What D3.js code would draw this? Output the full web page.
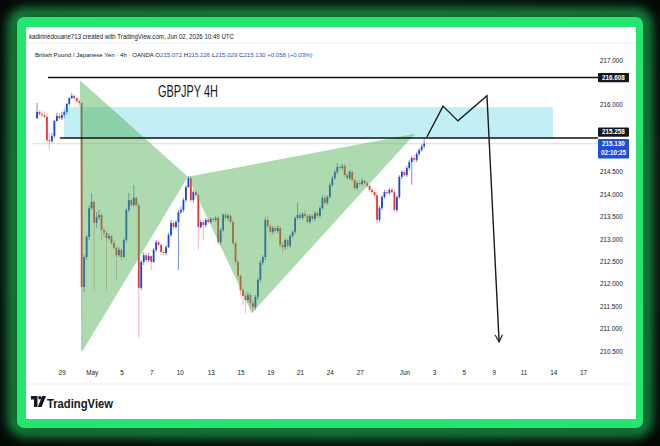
<!DOCTYPE html>
<html>
<head>
<meta charset="utf-8">
<script src="https://cdn.jsdelivr.net/npm/d3@7"></script>
<style>
  html, body { margin: 0; padding: 0; background: #070e08; }
  svg { display: block; font-family: "Liberation Sans", Arial, sans-serif; }
</style>
</head>
<body>
<svg id="chart" width="660" height="446"></svg>
<script>
// ---- data (GBPJPY, 4h bars, bar 0 = Apr 27 ~20:00) ----
const firstOpen = 215.70;
const closes = [
  215.84,215.79,215.77,215.73,215.21,215.19,215.30,215.64,215.75,215.70,
  215.77,215.84,216.02,216.15,216.20,216.15,216.08,216.04,211.93,212.60,
  213.05,213.69,213.83,213.36,213.49,213.54,213.20,213.14,213.02,213.07,
  212.91,212.80,212.64,212.76,212.60,212.98,213.65,213.87,213.76,213.92,
  213.76,211.91,212.49,212.64,212.53,212.62,212.49,212.76,212.93,212.87,
  212.71,212.69,212.82,213.09,213.36,213.27,213.38,213.60,213.65,213.87,
  214.16,214.36,213.87,214.05,213.98,213.27,213.38,213.31,213.43,213.38,
  213.45,213.43,213.47,212.93,213.20,213.54,213.47,213.52,213.38,212.91,
  212.49,212.18,211.86,211.73,211.64,211.75,211.57,211.48,211.71,212.09,
  212.47,212.60,213.43,213.29,213.16,213.25,213.18,213.25,212.87,212.82,
  212.98,212.85,213.07,213.16,213.47,213.54,213.47,213.56,213.52,213.38,
  213.52,213.45,213.58,213.52,213.69,213.92,213.81,213.94,214.21,214.36,
  214.50,214.61,214.59,214.63,214.43,214.36,214.50,214.32,214.14,214.25,
  214.23,214.30,214.25,214.19,214.10,214.05,213.98,213.43,213.69,213.94,
  214.05,214.03,214.10,214.05,213.65,213.94,214.39,214.50,214.43,214.59,
  214.72,214.81,214.77,214.90,214.99,215.07,215.13
];
const highs = [
  216.04,215.88,215.86,215.84,215.82,215.37,215.37,215.66,215.82,215.82,
  215.84,215.88,216.04,216.17,216.26,216.22,216.17,216.13,216.06,212.64,
  213.09,213.76,214.03,213.87,213.60,213.65,213.58,213.27,213.20,213.14,
  213.09,212.98,212.85,212.82,212.80,213.02,213.69,214.03,213.92,214.21,
  213.96,213.81,212.53,212.71,212.69,212.69,212.64,212.80,212.98,212.98,
  212.91,212.76,212.87,213.14,213.43,213.40,213.43,213.65,213.72,213.92,
  214.21,214.41,214.41,214.10,214.10,214.03,213.43,213.43,213.47,213.47,
  213.49,213.49,213.52,213.52,213.25,213.58,213.60,213.56,213.56,213.43,
  212.95,212.53,212.22,211.91,211.80,211.82,211.80,211.64,211.75,212.13,
  212.53,212.64,213.49,213.52,213.34,213.29,213.29,213.31,213.29,212.93,
  213.02,213.02,213.11,213.20,213.52,213.81,213.60,213.60,213.63,213.56,
  213.56,213.56,213.63,213.63,213.74,213.98,213.98,213.98,214.25,214.41,
  214.54,214.70,214.65,214.68,214.68,214.48,214.54,214.54,214.36,214.30,
  214.32,214.36,214.34,214.30,214.23,214.14,214.10,214.03,213.74,213.98,
  214.10,214.10,214.14,214.14,214.10,213.98,214.43,214.54,214.54,214.63,
  214.77,214.86,214.88,214.95,215.03,215.12,215.23
];
const lows = [
  215.68,215.75,215.73,215.70,215.17,214.99,215.15,215.26,215.62,215.66,
  215.66,215.70,215.79,215.97,216.13,216.11,216.06,215.97,210.52,211.82,
  212.53,212.98,213.65,211.86,213.25,213.43,212.98,213.05,211.86,212.98,
  212.87,212.76,212.09,212.60,212.53,212.58,212.93,213.60,213.72,213.72,
  213.72,210.81,211.86,212.42,212.47,212.49,212.31,212.47,212.71,212.82,
  212.64,212.62,212.64,212.80,213.05,213.20,213.23,212.31,213.56,213.60,
  213.83,214.14,213.83,213.81,213.92,212.76,213.23,212.98,213.27,213.34,
  213.34,213.38,213.38,212.87,212.87,213.16,213.43,213.40,213.34,212.87,
  212.42,212.09,211.75,211.53,211.35,211.57,211.42,211.35,211.42,211.64,
  212.04,212.42,212.53,213.25,213.09,213.11,213.14,213.14,212.80,212.69,
  212.76,212.78,212.80,213.02,213.11,213.43,213.43,213.43,213.47,213.34,
  213.34,213.40,213.40,213.47,213.47,213.65,213.76,213.76,213.90,214.16,
  214.32,214.45,214.54,214.54,214.39,214.32,214.32,214.28,214.10,214.10,
  214.19,214.19,214.21,214.14,214.05,214.01,213.94,213.36,213.38,213.65,
  213.90,213.98,213.98,214.01,213.60,213.60,213.90,214.34,214.39,214.39,
  214.54,214.21,214.72,214.72,214.86,214.95,215.03
];

const priceTicks = [217, 216.5, 216, 215.5, 215, 214.5, 214, 213.5, 213, 212.5, 212, 211.5, 211, 210.5];
const timeTickBars = [10, 22, 34, 46, 57.5, 70, 82, 94, 106, 118, 130, 148, 160, 172, 184, 196, 208, 220];
const timeLabels = ['29', 'May', '5', '7', '10', '13', '15', '19', '21', '24', '27', 'Jun', '3', '5', '9', '11', '14', '17'];

// drawings (anchors in bar index / price)
const levelPrices = [216.608, 215.258];
const levelStartBars = [4.4, 9.3];
const zoneBars = [10.9, 207.9];
const zonePrices = [215.95, 215.258];
const xabcdBars = [17.3, 18.1, 60.8, 86.6, 152.3];
const xabcdPrices = [216.55, 210.48, 214.39, 211.35, 215.35];
const projBars = [157.1, 163.6, 169.6, 181.3, 186.2];
const projPrices = [215.28, 215.97, 215.64, 216.20, 210.70];
const lastPrice = 215.130;
const countdown = '02:10:25';

const svg = d3.select('#chart');
const W = 660, H = 446;
const plotRight = 598;

const x = d3.scaleLinear().domain([0, 220]).range([37, 583]);
const y = d3.scaleLinear().domain([210.5, 217]).range([351, 60]);

// ---- background + glowing frame ----
const defs = svg.append('defs');
const glow = defs.append('filter').attr('id', 'glow')
  .attr('x', '-10%').attr('y', '-10%').attr('width', '120%').attr('height', '120%');
glow.append('feGaussianBlur').attr('stdDeviation', 6);

const bgGrad = defs.append('radialGradient').attr('id', 'bg').attr('cx', '50%').attr('cy', '50%').attr('r', '70%');
bgGrad.append('stop').attr('offset', '0%').attr('stop-color', '#0f2b17');
bgGrad.append('stop').attr('offset', '100%').attr('stop-color', '#040905');

svg.append('rect').attr('width', W).attr('height', H).attr('fill', 'url(#bg)');
svg.append('rect')
  .attr('x', 14).attr('y', 14).attr('width', 632).attr('height', 417).attr('rx', 10)
  .attr('fill', 'none').attr('stroke', '#2bff7a').attr('stroke-width', 9)
  .attr('opacity', 0.7).attr('filter', 'url(#glow)');
svg.append('rect')
  .attr('x', 17).attr('y', 17).attr('width', 626).attr('height', 411).attr('rx', 7)
  .attr('fill', '#24e56e');
svg.append('rect')
  .attr('x', 26).attr('y', 27).attr('width', 610).attr('height', 392)
  .attr('fill', '#ffffff');

// ---- header ----
svg.append('text')
  .attr('x', 29).attr('y', 38.5)
  .attr('font-size', 6.4).attr('fill', '#131722')
  .attr('textLength', 205).attr('lengthAdjust', 'spacingAndGlyphs')
  .text('kadirinedouane713 created with TradingView.com, Jun 02, 2026 10:49 UTC');

svg.append('line')
  .attr('x1', 26).attr('x2', 636).attr('y1', 43).attr('y2', 43)
  .attr('stroke', '#eceef2');

const legend = svg.append('text')
  .attr('x', 35).attr('y', 56.5)
  .attr('font-size', 6.1).attr('fill', '#131722');
legend.append('tspan').text('British Pound / Japanese Yen · 4h · OANDA  ');
const ohlc = [['O', '215.072'], ['H', '215.226'], ['L', '215.029'], ['C', '215.130']];
ohlc.forEach(([k, v]) => {
  legend.append('tspan').attr('fill', '#131722').text(k);
  legend.append('tspan').attr('fill', '#2a55d6').text(v + '  ');
});
legend.append('tspan').attr('fill', '#2a55d6').text('+0.058 (+0.03%)');

// ---- price axis (labels hidden where a price tag covers them) ----
const tagCenters = [y(levelPrices[0]), y(levelPrices[1]) - 6, y(lastPrice) + 4.5];
const visibleTicks = priceTicks.filter(p => tagCenters.every(c => Math.abs(y(p) - c) > 8));
const yAxis = svg.append('g')
  .attr('transform', `translate(${plotRight},0)`)
  .call(d3.axisRight(y).tickValues(visibleTicks).tickFormat(d3.format('.3f')).tickSize(0).tickPadding(2));
yAxis.select('.domain').remove();
yAxis.selectAll('text')
  .attr('font-size', 6.3).attr('fill', '#131722')
  .attr('font-family', '"Liberation Sans", Arial, sans-serif');

// ---- time axis ----
const xAxis = svg.append('g')
  .attr('transform', 'translate(0,368)')
  .call(d3.axisBottom(x).tickValues(timeTickBars).tickFormat((d, i) => timeLabels[i]).tickSize(0).tickPadding(3));
xAxis.select('.domain').remove();
xAxis.selectAll('text')
  .attr('font-size', 6.3).attr('fill', '#131722')
  .attr('font-family', '"Liberation Sans", Arial, sans-serif');

svg.append('line')
  .attr('x1', 26).attr('x2', 636).attr('y1', 384).attr('y2', 384)
  .attr('stroke', '#eceef2');

// ---- last price line ----
svg.append('line')
  .attr('x1', 33).attr('x2', plotRight).attr('y1', y(lastPrice)).attr('y2', y(lastPrice))
  .attr('stroke', '#d9dce3').attr('stroke-width', 1);

// ---- candles ----
const bars = closes.map((c, i) => ({
  i,
  o: i === 0 ? firstOpen : closes[i - 1],
  c,
  h: highs[i],
  l: lows[i]
}));

const upCol = '#1f44d0', downCol = '#e8383c';
const upWick = '#5a72d8', downWick = '#eba2a4';
const bodyW = 1.8;

const candles = svg.append('g').attr('class', 'candles');
candles.selectAll('line')
  .data(bars).enter().append('line')
  .attr('x1', d => x(d.i)).attr('x2', d => x(d.i))
  .attr('y1', d => y(Math.max(d.h, d.o, d.c)))
  .attr('y2', d => y(Math.min(d.l, d.o, d.c)))
  .attr('stroke', d => d.c >= d.o ? upWick : downWick)
  .attr('stroke-width', 0.8);
candles.selectAll('rect')
  .data(bars).enter().append('rect')
  .attr('x', d => x(d.i) - bodyW / 2)
  .attr('width', bodyW)
  .attr('y', d => y(Math.max(d.o, d.c)))
  .attr('height', d => Math.max(1, Math.abs(y(d.o) - y(d.c))))
  .attr('fill', d => d.c >= d.o ? upCol : downCol);

// ---- drawings ----
// supply zone
svg.append('rect')
  .attr('x', x(zoneBars[0])).attr('width', x(zoneBars[1]) - x(zoneBars[0]))
  .attr('y', y(zonePrices[0])).attr('height', y(zonePrices[1]) - y(zonePrices[0]))
  .attr('fill', '#00bcd4').attr('fill-opacity', 0.24);

// XABCD pattern triangles
const pts = xabcdBars.map((b, i) => [x(b), y(xabcdPrices[i])]);
[[0, 1, 2], [2, 3, 4]].forEach(tri => {
  svg.append('path')
    .attr('d', d3.line()(tri.map(k => pts[k])) + 'Z')
    .attr('fill', '#4caf50').attr('fill-opacity', 0.46)
    .attr('stroke', 'none');
});

// horizontal levels (extend to price scale)
levelPrices.forEach((p, i) => {
  svg.append('line')
    .attr('x1', x(levelStartBars[i])).attr('x2', plotRight)
    .attr('y1', y(p)).attr('y2', y(p))
    .attr('stroke', '#111').attr('stroke-width', 1.4);
});

// projected path with arrow
defs.append('marker').attr('id', 'arrow')
  .attr('viewBox', '0 0 10 10').attr('refX', 9).attr('refY', 5)
  .attr('markerWidth', 9).attr('markerHeight', 9).attr('markerUnits', 'userSpaceOnUse')
  .attr('orient', 'auto')
  .append('path').attr('d', 'M1,1 L9,5 L1,9')
  .attr('fill', 'none').attr('stroke', '#222').attr('stroke-width', 1.3);

svg.append('path')
  .attr('d', d3.line()(projBars.map((b, i) => [x(b), y(projPrices[i])])))
  .attr('fill', 'none').attr('stroke', '#1a1a1a').attr('stroke-width', 1.4)
  .attr('stroke-linejoin', 'miter')
  .attr('marker-end', 'url(#arrow)');

// title
svg.append('text')
  .attr('x', 158).attr('y', 97)
  .attr('font-size', 16).attr('fill', '#131722')
  .attr('textLength', 60).attr('lengthAdjust', 'spacingAndGlyphs')
  .text('GBPJPY 4H');

// ---- price labels on scale ----
function priceTag(cy, bg, lines, h) {
  const g = svg.append('g');
  g.append('rect')
    .attr('x', plotRight).attr('y', cy - 4.6).attr('width', 31).attr('height', h)
    .attr('rx', 1).attr('fill', bg);
  lines.forEach((t, k) => {
    g.append('text')
      .attr('x', plotRight + 15.5).attr('y', cy + 2.2 + k * 9)
      .attr('text-anchor', 'middle')
      .attr('font-size', 6.3).attr('font-weight', 700).attr('fill', '#fff')
      .text(t);
  });
}
priceTag(y(levelPrices[0]), '#131722', [d3.format('.3f')(levelPrices[0])], 9.4);
priceTag(y(levelPrices[1]) - 6, '#131722', [d3.format('.3f')(levelPrices[1])], 9.4);
priceTag(y(lastPrice), '#1d4fd8', [d3.format('.3f')(lastPrice), countdown], 19.5);

// ---- TradingView logo ----
const logo = svg.append('g').attr('transform', 'translate(31,396)').attr('fill', '#131722');
logo.append('path').attr('d', 'M0 0 H6.5 V11 H3 V3.4 H0 Z');
logo.append('circle').attr('cx', 8.9).attr('cy', 1.7).attr('r', 1.7);
logo.append('path').attr('d', 'M11.2 0 H15 L10.6 11 H6.8 Z');
svg.append('text')
  .attr('x', 47).attr('y', 407.5)
  .attr('font-size', 12.5).attr('font-weight', 700).attr('fill', '#131722')
  .attr('textLength', 66).attr('lengthAdjust', 'spacingAndGlyphs')
  .text('TradingView');
</script>
</body>
</html>
